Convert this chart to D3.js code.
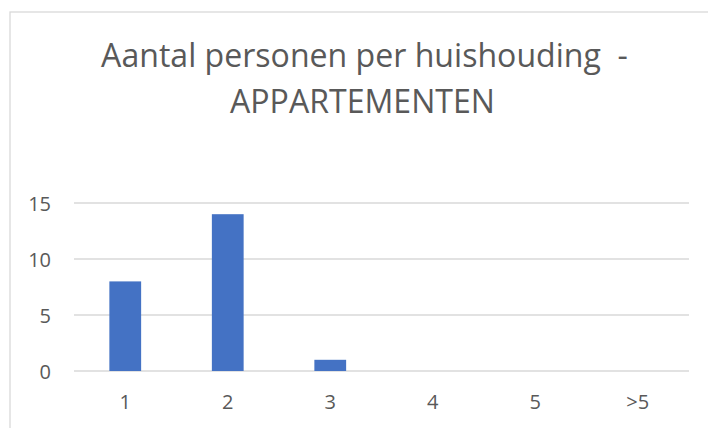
<!DOCTYPE html>
<html>
<head>
<meta charset="utf-8">
<script src="https://cdn.jsdelivr.net/npm/d3@7"></script>
<style>
  html, body { margin: 0; padding: 0; background: #fff; }
  svg { display: block; }
</style>
</head>
<body>
<svg id="chart" width="708" height="428"></svg>
<script>
const categories = ["1", "2", "3", "4", "5", ">5"];
const values = [8, 14, 1, 0, 0, 0];
const yTicks = [0, 5, 10, 15];
const titleLines = ["Aantal personen per huishouding  -", "APPARTEMENTEN"];

const svg = d3.select("#chart");
const W = 708, H = 428;
const margin = { left: 74, right: 19, top: 203, bottom: 57 };
const plotW = W - margin.left - margin.right;

// chart area border (extends beyond viewport right/bottom)
svg.append("rect")
  .attr("x", 10).attr("y", 12)
  .attr("width", 720).attr("height", 440)
  .attr("fill", "#fff")
  .attr("stroke", "#d9d9d9")
  .attr("stroke-width", 1.3);

const x = d3.scaleBand()
  .domain(categories)
  .range([margin.left, margin.left + plotW])
  .paddingInner(0.69)
  .paddingOuter(0.345);

const y = d3.scaleLinear()
  .domain([0, 15])
  .range([371, 203]);

// gridlines
svg.append("g")
  .selectAll("line")
  .data(yTicks)
  .join("line")
  .attr("x1", margin.left)
  .attr("x2", margin.left + plotW)
  .attr("y1", d => y(d))
  .attr("y2", d => y(d))
  .attr("stroke", "#d9d9d9")
  .attr("stroke-width", 1.3);

// y axis labels
const yAxis = d3.axisLeft(y).tickValues(yTicks).tickSize(0).tickPadding(0);
const yg = svg.append("g")
  .attr("transform", `translate(51,0)`)
  .call(yAxis);
yg.select(".domain").remove();
yg.selectAll("text")
  .attr("font-family", "'Open Sans', sans-serif")
  .attr("font-size", 20)
  .attr("fill", "#595959")
  .attr("dy", "0.36em");

// bars
svg.append("g")
  .selectAll("rect")
  .data(categories.map((c, i) => ({ c, v: values[i] })))
  .join("rect")
  .attr("x", d => x(d.c))
  .attr("width", x.bandwidth())
  .attr("y", d => y(d.v))
  .attr("height", d => y(0) - y(d.v))
  .attr("fill", "#4472C4");

// x axis labels
const xAxis = d3.axisBottom(x).tickSize(0).tickPadding(0);
const xg = svg.append("g")
  .attr("transform", `translate(0,402)`)
  .call(xAxis);
xg.select(".domain").remove();
xg.selectAll("text")
  .attr("font-family", "'Open Sans', sans-serif")
  .attr("font-size", 20)
  .attr("fill", "#595959")
  .attr("dy", "0.36em");

// title
const titleTargets = [
  { cx: 364.5, baseline: 66.7, width: 527 },
  { cx: 362.5, baseline: 113.3, width: 269 }
];
const els = titleLines.map((t, i) => {
  const tt = titleTargets[i];
  return svg.append("text")
    .attr("x", tt.cx)
    .attr("y", tt.baseline)
    .attr("text-anchor", "middle")
    .attr("font-family", "'Open Sans', sans-serif")
    .attr("font-weight", 400)
    .attr("font-size", 30)
    .attr("fill", "#595959")
    .style("white-space", "pre")
    .text(t);
});
// size title so line 1 natural width matches
const w0 = els[0].node().getComputedTextLength();
const fs = Math.min(34, 30 * 527 / w0);
els.forEach((el, i) => {
  el.attr("font-size", fs);
  const w = el.node().getComputedTextLength();
  if (Math.abs(w - titleTargets[i].width) > 6) {
    el.attr("textLength", titleTargets[i].width).attr("lengthAdjust", "spacingAndGlyphs");
  }
});
</script>
</body>
</html>
